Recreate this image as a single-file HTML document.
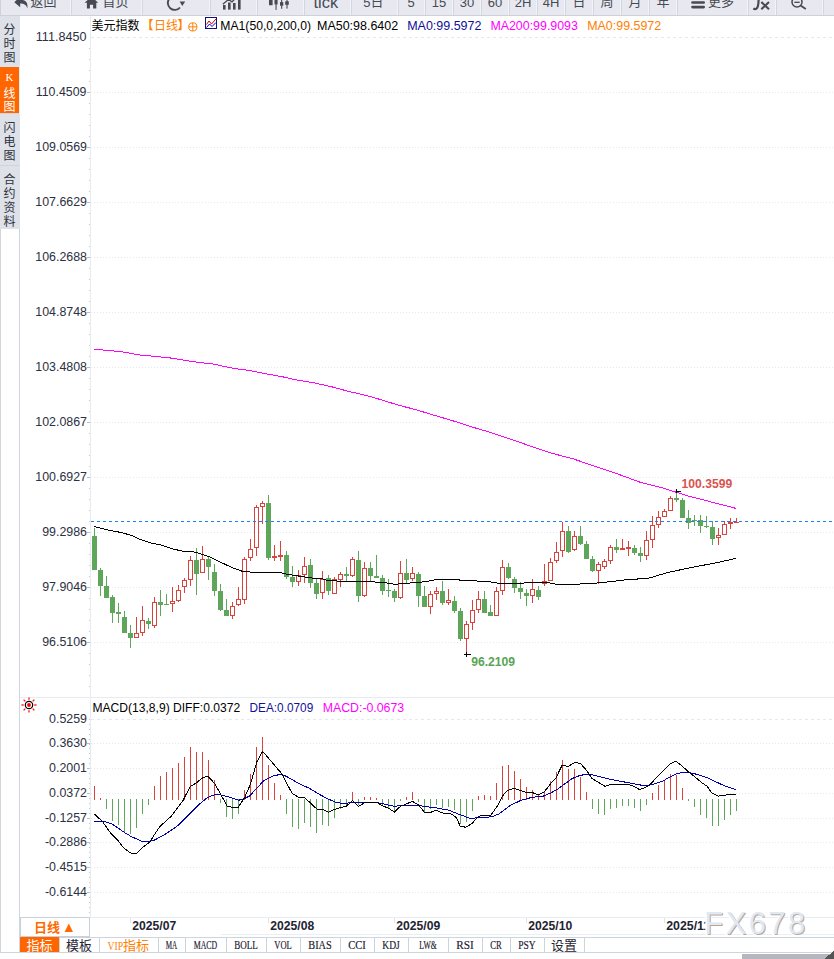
<!DOCTYPE html>
<html><head><meta charset="utf-8"><title>美元指数 日线</title>
<style>html,body{margin:0;padding:0;background:#fff;}body{width:834px;height:959px;overflow:hidden;position:relative;}svg{position:absolute;left:0;top:0;display:block}</style>
</head><body>
<svg width="834" height="959" viewBox="0 0 834 959" shape-rendering="crispEdges">
<rect x="0" y="0" width="834" height="15" fill="#e8e9f0"/>
<rect x="0" y="15" width="834" height="1" fill="#cfd1d8"/>
<rect x="0" y="0" width="1" height="16" fill="#d0d2d9"/>
<rect x="70" y="0" width="1" height="15" fill="#f3f4f7"/>
<rect x="71" y="0" width="1" height="15" fill="#d4d6dd"/>
<rect x="141" y="0" width="1" height="15" fill="#f3f4f7"/>
<rect x="142" y="0" width="1" height="15" fill="#d4d6dd"/>
<rect x="209" y="0" width="1" height="15" fill="#f3f4f7"/>
<rect x="210" y="0" width="1" height="15" fill="#d4d6dd"/>
<rect x="256" y="0" width="1" height="15" fill="#f3f4f7"/>
<rect x="257" y="0" width="1" height="15" fill="#d4d6dd"/>
<rect x="303" y="0" width="1" height="15" fill="#f3f4f7"/>
<rect x="304" y="0" width="1" height="15" fill="#d4d6dd"/>
<rect x="350" y="0" width="1" height="15" fill="#f3f4f7"/>
<rect x="351" y="0" width="1" height="15" fill="#d4d6dd"/>
<rect x="397" y="0" width="1" height="15" fill="#f3f4f7"/>
<rect x="398" y="0" width="1" height="15" fill="#d4d6dd"/>
<rect x="424" y="0" width="1" height="15" fill="#f3f4f7"/>
<rect x="425" y="0" width="1" height="15" fill="#d4d6dd"/>
<rect x="452" y="0" width="1" height="15" fill="#f3f4f7"/>
<rect x="453" y="0" width="1" height="15" fill="#d4d6dd"/>
<rect x="480" y="0" width="1" height="15" fill="#f3f4f7"/>
<rect x="481" y="0" width="1" height="15" fill="#d4d6dd"/>
<rect x="508" y="0" width="1" height="15" fill="#f3f4f7"/>
<rect x="509" y="0" width="1" height="15" fill="#d4d6dd"/>
<rect x="536" y="0" width="1" height="15" fill="#f3f4f7"/>
<rect x="537" y="0" width="1" height="15" fill="#d4d6dd"/>
<rect x="564" y="0" width="1" height="15" fill="#f3f4f7"/>
<rect x="565" y="0" width="1" height="15" fill="#d4d6dd"/>
<rect x="592" y="0" width="1" height="15" fill="#f3f4f7"/>
<rect x="593" y="0" width="1" height="15" fill="#d4d6dd"/>
<rect x="620" y="0" width="1" height="15" fill="#f3f4f7"/>
<rect x="621" y="0" width="1" height="15" fill="#d4d6dd"/>
<rect x="648" y="0" width="1" height="15" fill="#f3f4f7"/>
<rect x="649" y="0" width="1" height="15" fill="#d4d6dd"/>
<rect x="676" y="0" width="1" height="15" fill="#f3f4f7"/>
<rect x="677" y="0" width="1" height="15" fill="#d4d6dd"/>
<rect x="747" y="0" width="1" height="15" fill="#f3f4f7"/>
<rect x="748" y="0" width="1" height="15" fill="#d4d6dd"/>
<rect x="775" y="0" width="1" height="15" fill="#f3f4f7"/>
<rect x="776" y="0" width="1" height="15" fill="#d4d6dd"/>
<rect x="822" y="0" width="1" height="15" fill="#f3f4f7"/>
<rect x="823" y="0" width="1" height="15" fill="#d4d6dd"/>
<text x="30.5" y="6.4" font-family='"Liberation Sans","Noto Sans CJK SC",sans-serif' font-size="13" fill="#474a52" text-anchor="start">返回</text>
<text x="102.5" y="6.4" font-family='"Liberation Sans","Noto Sans CJK SC",sans-serif' font-size="13" fill="#474a52" text-anchor="start">首页</text>
<text x="313.5" y="7.8" font-family='"Liberation Sans","Noto Sans CJK SC",sans-serif' font-size="17" fill="#474a52" text-anchor="start" textLength="24.6" lengthAdjust="spacingAndGlyphs">tick</text>
<text x="363.3" y="6.7" font-family='"Liberation Sans","Noto Sans CJK SC",sans-serif' font-size="13" fill="#474a52" text-anchor="start">5</text>
<text x="370.5" y="6.4" font-family='"Liberation Sans","Noto Sans CJK SC",sans-serif' font-size="13" fill="#474a52" text-anchor="start">日</text>
<text x="411" y="6.7" font-family='"Liberation Sans","Noto Sans CJK SC",sans-serif' font-size="13" fill="#474a52" text-anchor="middle">5</text>
<text x="439" y="6.7" font-family='"Liberation Sans","Noto Sans CJK SC",sans-serif' font-size="13" fill="#474a52" text-anchor="middle">15</text>
<text x="467" y="6.7" font-family='"Liberation Sans","Noto Sans CJK SC",sans-serif' font-size="13" fill="#474a52" text-anchor="middle">30</text>
<text x="495" y="6.7" font-family='"Liberation Sans","Noto Sans CJK SC",sans-serif' font-size="13" fill="#474a52" text-anchor="middle">60</text>
<text x="523" y="6.7" font-family='"Liberation Sans","Noto Sans CJK SC",sans-serif' font-size="13" fill="#474a52" text-anchor="middle">2H</text>
<text x="551" y="6.7" font-family='"Liberation Sans","Noto Sans CJK SC",sans-serif' font-size="13" fill="#474a52" text-anchor="middle">4H</text>
<text x="579" y="6.4" font-family='"Liberation Sans","Noto Sans CJK SC",sans-serif' font-size="13" fill="#474a52" text-anchor="middle">日</text>
<text x="607" y="6.4" font-family='"Liberation Sans","Noto Sans CJK SC",sans-serif' font-size="13" fill="#474a52" text-anchor="middle">周</text>
<text x="635" y="6.4" font-family='"Liberation Sans","Noto Sans CJK SC",sans-serif' font-size="13" fill="#474a52" text-anchor="middle">月</text>
<text x="663" y="6.4" font-family='"Liberation Sans","Noto Sans CJK SC",sans-serif' font-size="13" fill="#474a52" text-anchor="middle">年</text>
<text x="708" y="6.4" font-family='"Liberation Sans","Noto Sans CJK SC",sans-serif' font-size="13" fill="#474a52" text-anchor="start">更多</text>
<g shape-rendering="auto">
<path d="M14.3 2.2 L20.2 -3.5 L20.2 -0.3 C25.5 -0.3 28.2 2.5 27.3 8.2 C25.8 4.6 23.8 3.6 20.2 3.6 L20.2 7.2 Z" fill="#474a52"/>
<path d="M84.6 2.8 L91.5 -3.5 L98.2 2.8 L96.3 2.8 L96.3 8.4 L93.1 8.4 L93.1 4.8 L89.9 4.8 L89.9 8.4 L86.9 8.4 L86.9 2.8 Z" fill="#474a52"/>
<path d="M169.5 -1.5 A6.3 6.3 0 0 0 180 7.5" fill="none" stroke="#474a52" stroke-width="1.9"/><path d="M179.6 1.6 L185.2 1.6 L182.3 5.9 Z" fill="#474a52"/>
<rect x="223" y="5" width="2.6" height="4.6" fill="#474a52"/>
<rect x="228" y="2.5" width="2.6" height="7.1" fill="#474a52"/>
<rect x="233" y="3" width="2.6" height="6.6" fill="#474a52"/>
<rect x="238" y="-1" width="2.6" height="10.6" fill="#474a52"/>
<path d="M222.8 4.2 L228.5 -0.5 L232 1.8 L236 -2" fill="none" stroke="#474a52" stroke-width="1.3"/>
<rect x="269" y="-1" width="3.6" height="6.2" fill="#474a52"/><rect x="270.25" y="-1" width="1.1" height="6.2" fill="#474a52"/>
<rect x="274.5" y="-1" width="3.1" height="5.4" fill="#474a52"/><rect x="275.50" y="-1" width="1.1" height="10.9" fill="#474a52"/>
<rect x="280" y="2.1" width="3.3" height="3.6" fill="#474a52"/><rect x="281.10" y="-1" width="1.1" height="9.8" fill="#474a52"/>
<rect x="285.2" y="1.3" width="3.6" height="3.5" fill="#474a52"/><rect x="286.45" y="-1" width="1.1" height="9.6" fill="#474a52"/>
<rect x="691.2" y="1.2" width="13.8" height="2.6" rx="1.3" fill="#474a52"/><rect x="691.2" y="5.8" width="13.8" height="2.6" rx="1.3" fill="#474a52"/>
<path d="M758.6 -1 C758.6 3 758.6 7 756.5 8.6 C755.5 9.3 754.2 9.1 753.4 8.4" fill="none" stroke="#474a52" stroke-width="2.2"/>
<path d="M761.3 2 L769 9.3 M769 2 L761.3 9.3" stroke="#474a52" stroke-width="2.1"/>
<circle cx="797" cy="2" r="5" fill="none" stroke="#474a52" stroke-width="1.5"/><path d="M794.3 2.3 H799.7" stroke="#474a52" stroke-width="1.3"/><path d="M800.6 5.6 L805.8 9" stroke="#474a52" stroke-width="1.8"/>
</g>
<rect x="0" y="16" width="20" height="213" fill="#dfe1e8"/>
<rect x="0" y="66" width="19" height="1" fill="#dbe6f2"/>
<rect x="19" y="66" width="1" height="48" fill="#e4eef9"/>
<rect x="0" y="67" width="19" height="46" fill="#ff6600"/>
<rect x="0" y="113" width="19" height="1" fill="#ccd6e0"/>
<rect x="0" y="165" width="19" height="1" fill="#ccd6e0"/>
<rect x="0" y="229" width="1" height="724" fill="#cfd6de"/>
<rect x="19" y="229" width="1" height="724" fill="#cfd6de"/>
<text x="9.5" y="33.7" font-family='"Liberation Sans","Noto Sans CJK SC",sans-serif' font-size="12" fill="#2c3340" text-anchor="middle">分</text>
<text x="9.5" y="47.7" font-family='"Liberation Sans","Noto Sans CJK SC",sans-serif' font-size="12" fill="#2c3340" text-anchor="middle">时</text>
<text x="9.5" y="61.7" font-family='"Liberation Sans","Noto Sans CJK SC",sans-serif' font-size="12" fill="#2c3340" text-anchor="middle">图</text>
<text x="9.5" y="81" font-family='"Liberation Serif",serif' font-size="11" fill="#ffffff" text-anchor="middle">K</text>
<text x="9.5" y="98" font-family='"Liberation Sans","Noto Sans CJK SC",sans-serif' font-size="12" fill="#ffffff" text-anchor="middle">线</text>
<text x="9.5" y="111" font-family='"Liberation Sans","Noto Sans CJK SC",sans-serif' font-size="12" fill="#ffffff" text-anchor="middle">图</text>
<text x="9.5" y="131.6" font-family='"Liberation Sans","Noto Sans CJK SC",sans-serif' font-size="12" fill="#2c3340" text-anchor="middle">闪</text>
<text x="9.5" y="145.6" font-family='"Liberation Sans","Noto Sans CJK SC",sans-serif' font-size="12" fill="#2c3340" text-anchor="middle">电</text>
<text x="9.5" y="159.6" font-family='"Liberation Sans","Noto Sans CJK SC",sans-serif' font-size="12" fill="#2c3340" text-anchor="middle">图</text>
<text x="9.5" y="183.8" font-family='"Liberation Sans","Noto Sans CJK SC",sans-serif' font-size="12" fill="#2c3340" text-anchor="middle">合</text>
<text x="9.5" y="197.8" font-family='"Liberation Sans","Noto Sans CJK SC",sans-serif' font-size="12" fill="#2c3340" text-anchor="middle">约</text>
<text x="9.5" y="211.8" font-family='"Liberation Sans","Noto Sans CJK SC",sans-serif' font-size="12" fill="#2c3340" text-anchor="middle">资</text>
<text x="9.5" y="225.8" font-family='"Liberation Sans","Noto Sans CJK SC",sans-serif' font-size="12" fill="#2c3340" text-anchor="middle">料</text>
<rect x="90" y="16" width="1" height="901" fill="#e6ecf2"/>
<line x1="91" y1="37.5" x2="834" y2="37.5" stroke="#e3e9f0" stroke-dasharray="3 3"/>
<text x="35.8" y="40.6" font-family="'Liberation Sans',sans-serif" font-size="12.4" fill="#2b3042" textLength="50.6" lengthAdjust="spacingAndGlyphs">111.8450</text>
<line x1="91" y1="92.5" x2="834" y2="92.5" stroke="#e3e9f0" stroke-dasharray="1 2"/>
<rect x="87" y="92" width="3" height="1" fill="#b8bec8"/>
<text x="35.8" y="95.6" font-family="'Liberation Sans',sans-serif" font-size="12.4" fill="#2b3042" textLength="50.6" lengthAdjust="spacingAndGlyphs">110.4509</text>
<line x1="91" y1="147.5" x2="834" y2="147.5" stroke="#e3e9f0" stroke-dasharray="1 2"/>
<rect x="87" y="147" width="3" height="1" fill="#b8bec8"/>
<text x="87" y="150.6" font-family="'Liberation Sans',sans-serif" font-size="12.4" fill="#2b3042" text-anchor="end">109.0569</text>
<line x1="91" y1="202.5" x2="834" y2="202.5" stroke="#e3e9f0" stroke-dasharray="1 2"/>
<rect x="87" y="202" width="3" height="1" fill="#b8bec8"/>
<text x="87" y="205.6" font-family="'Liberation Sans',sans-serif" font-size="12.4" fill="#2b3042" text-anchor="end">107.6629</text>
<line x1="91" y1="257.5" x2="834" y2="257.5" stroke="#e3e9f0" stroke-dasharray="1 2"/>
<rect x="87" y="257" width="3" height="1" fill="#b8bec8"/>
<text x="87" y="260.6" font-family="'Liberation Sans',sans-serif" font-size="12.4" fill="#2b3042" text-anchor="end">106.2688</text>
<line x1="91" y1="312.5" x2="834" y2="312.5" stroke="#e3e9f0" stroke-dasharray="1 2"/>
<rect x="87" y="312" width="3" height="1" fill="#b8bec8"/>
<text x="87" y="315.6" font-family="'Liberation Sans',sans-serif" font-size="12.4" fill="#2b3042" text-anchor="end">104.8748</text>
<line x1="91" y1="367.5" x2="834" y2="367.5" stroke="#e3e9f0" stroke-dasharray="1 2"/>
<rect x="87" y="367" width="3" height="1" fill="#b8bec8"/>
<text x="87" y="370.6" font-family="'Liberation Sans',sans-serif" font-size="12.4" fill="#2b3042" text-anchor="end">103.4808</text>
<line x1="91" y1="422.5" x2="834" y2="422.5" stroke="#e3e9f0" stroke-dasharray="1 2"/>
<rect x="87" y="422" width="3" height="1" fill="#b8bec8"/>
<text x="87" y="425.6" font-family="'Liberation Sans',sans-serif" font-size="12.4" fill="#2b3042" text-anchor="end">102.0867</text>
<line x1="91" y1="477.5" x2="834" y2="477.5" stroke="#e3e9f0" stroke-dasharray="1 2"/>
<rect x="87" y="477" width="3" height="1" fill="#b8bec8"/>
<text x="87" y="480.6" font-family="'Liberation Sans',sans-serif" font-size="12.4" fill="#2b3042" text-anchor="end">100.6927</text>
<line x1="91" y1="532.5" x2="834" y2="532.5" stroke="#e3e9f0" stroke-dasharray="1 2"/>
<rect x="87" y="532" width="3" height="1" fill="#b8bec8"/>
<text x="87" y="535.6" font-family="'Liberation Sans',sans-serif" font-size="12.4" fill="#2b3042" text-anchor="end">99.2986</text>
<line x1="91" y1="587.5" x2="834" y2="587.5" stroke="#e3e9f0" stroke-dasharray="1 2"/>
<rect x="87" y="587" width="3" height="1" fill="#b8bec8"/>
<text x="87" y="590.6" font-family="'Liberation Sans',sans-serif" font-size="12.4" fill="#2b3042" text-anchor="end">97.9046</text>
<line x1="91" y1="642.5" x2="834" y2="642.5" stroke="#e3e9f0" stroke-dasharray="1 2"/>
<rect x="87" y="642" width="3" height="1" fill="#b8bec8"/>
<text x="87" y="645.6" font-family="'Liberation Sans',sans-serif" font-size="12.4" fill="#2b3042" text-anchor="end">96.5106</text>
<rect x="89" y="48" width="1" height="1" fill="#c4cad3"/>
<rect x="89" y="59" width="1" height="1" fill="#c4cad3"/>
<rect x="89" y="70" width="1" height="1" fill="#c4cad3"/>
<rect x="89" y="81" width="1" height="1" fill="#c4cad3"/>
<rect x="89" y="103" width="1" height="1" fill="#c4cad3"/>
<rect x="89" y="114" width="1" height="1" fill="#c4cad3"/>
<rect x="89" y="125" width="1" height="1" fill="#c4cad3"/>
<rect x="89" y="136" width="1" height="1" fill="#c4cad3"/>
<rect x="89" y="158" width="1" height="1" fill="#c4cad3"/>
<rect x="89" y="169" width="1" height="1" fill="#c4cad3"/>
<rect x="89" y="180" width="1" height="1" fill="#c4cad3"/>
<rect x="89" y="191" width="1" height="1" fill="#c4cad3"/>
<rect x="89" y="213" width="1" height="1" fill="#c4cad3"/>
<rect x="89" y="224" width="1" height="1" fill="#c4cad3"/>
<rect x="89" y="235" width="1" height="1" fill="#c4cad3"/>
<rect x="89" y="246" width="1" height="1" fill="#c4cad3"/>
<rect x="89" y="268" width="1" height="1" fill="#c4cad3"/>
<rect x="89" y="279" width="1" height="1" fill="#c4cad3"/>
<rect x="89" y="290" width="1" height="1" fill="#c4cad3"/>
<rect x="89" y="301" width="1" height="1" fill="#c4cad3"/>
<rect x="89" y="323" width="1" height="1" fill="#c4cad3"/>
<rect x="89" y="334" width="1" height="1" fill="#c4cad3"/>
<rect x="89" y="345" width="1" height="1" fill="#c4cad3"/>
<rect x="89" y="356" width="1" height="1" fill="#c4cad3"/>
<rect x="89" y="378" width="1" height="1" fill="#c4cad3"/>
<rect x="89" y="389" width="1" height="1" fill="#c4cad3"/>
<rect x="89" y="400" width="1" height="1" fill="#c4cad3"/>
<rect x="89" y="411" width="1" height="1" fill="#c4cad3"/>
<rect x="89" y="433" width="1" height="1" fill="#c4cad3"/>
<rect x="89" y="444" width="1" height="1" fill="#c4cad3"/>
<rect x="89" y="455" width="1" height="1" fill="#c4cad3"/>
<rect x="89" y="466" width="1" height="1" fill="#c4cad3"/>
<rect x="89" y="488" width="1" height="1" fill="#c4cad3"/>
<rect x="89" y="499" width="1" height="1" fill="#c4cad3"/>
<rect x="89" y="510" width="1" height="1" fill="#c4cad3"/>
<rect x="89" y="521" width="1" height="1" fill="#c4cad3"/>
<rect x="89" y="543" width="1" height="1" fill="#c4cad3"/>
<rect x="89" y="554" width="1" height="1" fill="#c4cad3"/>
<rect x="89" y="565" width="1" height="1" fill="#c4cad3"/>
<rect x="89" y="576" width="1" height="1" fill="#c4cad3"/>
<rect x="89" y="598" width="1" height="1" fill="#c4cad3"/>
<rect x="89" y="609" width="1" height="1" fill="#c4cad3"/>
<rect x="89" y="620" width="1" height="1" fill="#c4cad3"/>
<rect x="89" y="631" width="1" height="1" fill="#c4cad3"/>
<rect x="89" y="653" width="1" height="1" fill="#c4cad3"/>
<rect x="89" y="664" width="1" height="1" fill="#c4cad3"/>
<rect x="89" y="675" width="1" height="1" fill="#c4cad3"/>
<rect x="89" y="686" width="1" height="1" fill="#c4cad3"/>
<rect x="20" y="697" width="814" height="1" fill="#e6ecf2"/>
<line x1="91" y1="719.5" x2="834" y2="719.5" stroke="#e3e9f0" stroke-dasharray="3 3"/>
<text x="87" y="722.6" font-family="'Liberation Sans',sans-serif" font-size="12.4" fill="#2b3042" text-anchor="end">0.5259</text>
<line x1="91" y1="743.5" x2="834" y2="743.5" stroke="#e3e9f0" stroke-dasharray="1 2"/>
<rect x="87" y="743" width="3" height="1" fill="#b8bec8"/>
<text x="87" y="746.6" font-family="'Liberation Sans',sans-serif" font-size="12.4" fill="#2b3042" text-anchor="end">0.3630</text>
<line x1="91" y1="768.5" x2="834" y2="768.5" stroke="#e3e9f0" stroke-dasharray="1 2"/>
<rect x="87" y="768" width="3" height="1" fill="#b8bec8"/>
<text x="87" y="771.6" font-family="'Liberation Sans',sans-serif" font-size="12.4" fill="#2b3042" text-anchor="end">0.2001</text>
<line x1="91" y1="793.5" x2="834" y2="793.5" stroke="#e3e9f0" stroke-dasharray="1 2"/>
<rect x="87" y="793" width="3" height="1" fill="#b8bec8"/>
<text x="87" y="796.6" font-family="'Liberation Sans',sans-serif" font-size="12.4" fill="#2b3042" text-anchor="end">0.0372</text>
<line x1="91" y1="818.5" x2="834" y2="818.5" stroke="#e3e9f0" stroke-dasharray="1 2"/>
<rect x="87" y="818" width="3" height="1" fill="#b8bec8"/>
<text x="87" y="821.6" font-family="'Liberation Sans',sans-serif" font-size="12.4" fill="#2b3042" text-anchor="end">-0.1257</text>
<line x1="91" y1="842.5" x2="834" y2="842.5" stroke="#e3e9f0" stroke-dasharray="1 2"/>
<rect x="87" y="842" width="3" height="1" fill="#b8bec8"/>
<text x="87" y="845.6" font-family="'Liberation Sans',sans-serif" font-size="12.4" fill="#2b3042" text-anchor="end">-0.2886</text>
<line x1="91" y1="867.5" x2="834" y2="867.5" stroke="#e3e9f0" stroke-dasharray="1 2"/>
<rect x="87" y="867" width="3" height="1" fill="#b8bec8"/>
<text x="87" y="870.6" font-family="'Liberation Sans',sans-serif" font-size="12.4" fill="#2b3042" text-anchor="end">-0.4515</text>
<line x1="91" y1="892.5" x2="834" y2="892.5" stroke="#e3e9f0" stroke-dasharray="1 2"/>
<rect x="87" y="892" width="3" height="1" fill="#b8bec8"/>
<text x="87" y="895.6" font-family="'Liberation Sans',sans-serif" font-size="12.4" fill="#2b3042" text-anchor="end">-0.6144</text>
<rect x="89" y="719" width="1" height="1" fill="#c4cad3"/>
<rect x="89" y="724" width="1" height="1" fill="#c4cad3"/>
<rect x="89" y="729" width="1" height="1" fill="#c4cad3"/>
<rect x="89" y="734" width="1" height="1" fill="#c4cad3"/>
<rect x="89" y="739" width="1" height="1" fill="#c4cad3"/>
<rect x="89" y="744" width="1" height="1" fill="#c4cad3"/>
<rect x="89" y="748" width="1" height="1" fill="#c4cad3"/>
<rect x="89" y="753" width="1" height="1" fill="#c4cad3"/>
<rect x="89" y="758" width="1" height="1" fill="#c4cad3"/>
<rect x="89" y="763" width="1" height="1" fill="#c4cad3"/>
<rect x="89" y="768" width="1" height="1" fill="#c4cad3"/>
<rect x="89" y="773" width="1" height="1" fill="#c4cad3"/>
<rect x="89" y="778" width="1" height="1" fill="#c4cad3"/>
<rect x="89" y="783" width="1" height="1" fill="#c4cad3"/>
<rect x="89" y="788" width="1" height="1" fill="#c4cad3"/>
<rect x="89" y="793" width="1" height="1" fill="#c4cad3"/>
<rect x="89" y="798" width="1" height="1" fill="#c4cad3"/>
<rect x="89" y="803" width="1" height="1" fill="#c4cad3"/>
<rect x="89" y="808" width="1" height="1" fill="#c4cad3"/>
<rect x="89" y="813" width="1" height="1" fill="#c4cad3"/>
<rect x="89" y="818" width="1" height="1" fill="#c4cad3"/>
<rect x="89" y="823" width="1" height="1" fill="#c4cad3"/>
<rect x="89" y="828" width="1" height="1" fill="#c4cad3"/>
<rect x="89" y="833" width="1" height="1" fill="#c4cad3"/>
<rect x="89" y="838" width="1" height="1" fill="#c4cad3"/>
<rect x="89" y="843" width="1" height="1" fill="#c4cad3"/>
<rect x="89" y="847" width="1" height="1" fill="#c4cad3"/>
<rect x="89" y="852" width="1" height="1" fill="#c4cad3"/>
<rect x="89" y="857" width="1" height="1" fill="#c4cad3"/>
<rect x="89" y="862" width="1" height="1" fill="#c4cad3"/>
<rect x="89" y="867" width="1" height="1" fill="#c4cad3"/>
<rect x="89" y="872" width="1" height="1" fill="#c4cad3"/>
<rect x="89" y="877" width="1" height="1" fill="#c4cad3"/>
<rect x="89" y="882" width="1" height="1" fill="#c4cad3"/>
<rect x="89" y="887" width="1" height="1" fill="#c4cad3"/>
<rect x="89" y="892" width="1" height="1" fill="#c4cad3"/>
<rect x="89" y="897" width="1" height="1" fill="#c4cad3"/>
<rect x="89" y="902" width="1" height="1" fill="#c4cad3"/>
<rect x="89" y="907" width="1" height="1" fill="#c4cad3"/>
<rect x="89" y="912" width="1" height="1" fill="#c4cad3"/>
<rect x="20" y="917" width="70" height="1" fill="#c8d0da"/>
<rect x="90" y="917" width="744" height="1" fill="#e6ecf2"/>
<rect x="130" y="918" width="1" height="5" fill="#dfe4ea"/>
<text x="132.2" y="929.5" font-family="'Liberation Sans',sans-serif" font-size="12" font-weight="bold" fill="#1f2433" textLength="44" lengthAdjust="spacingAndGlyphs">2025/07</text>
<rect x="268" y="918" width="1" height="5" fill="#dfe4ea"/>
<text x="270.2" y="929.5" font-family="'Liberation Sans',sans-serif" font-size="12" font-weight="bold" fill="#1f2433" textLength="44" lengthAdjust="spacingAndGlyphs">2025/08</text>
<rect x="394" y="918" width="1" height="5" fill="#dfe4ea"/>
<text x="396.2" y="929.5" font-family="'Liberation Sans',sans-serif" font-size="12" font-weight="bold" fill="#1f2433" textLength="44" lengthAdjust="spacingAndGlyphs">2025/09</text>
<rect x="526" y="918" width="1" height="5" fill="#dfe4ea"/>
<text x="528.2" y="929.5" font-family="'Liberation Sans',sans-serif" font-size="12" font-weight="bold" fill="#1f2433" textLength="44" lengthAdjust="spacingAndGlyphs">2025/10</text>
<rect x="664" y="918" width="1" height="5" fill="#dfe4ea"/>
<text x="666.2" y="929.5" font-family="'Liberation Sans',sans-serif" font-size="12" font-weight="bold" fill="#1f2433" textLength="44" lengthAdjust="spacingAndGlyphs">2025/11</text>
<line x1="91" y1="521.5" x2="834" y2="521.5" stroke="#1e7dff" stroke-dasharray="3 3"/>
<rect x="94" y="528" width="1" height="42" fill="#5ea75a"/>
<rect x="92" y="536" width="5" height="34" fill="#5ea75a"/>
<rect x="100" y="568" width="1" height="28" fill="#5ea75a"/>
<rect x="98" y="570" width="5" height="16" fill="#5ea75a"/>
<rect x="106" y="576" width="1" height="22" fill="#5ea75a"/>
<rect x="104" y="586" width="5" height="12" fill="#5ea75a"/>
<rect x="112" y="595" width="1" height="28" fill="#5ea75a"/>
<rect x="110" y="597" width="5" height="16" fill="#5ea75a"/>
<rect x="118" y="603" width="1" height="20" fill="#5ea75a"/>
<rect x="116" y="612" width="5" height="2" fill="#5ea75a"/>
<rect x="124" y="611" width="1" height="22" fill="#5ea75a"/>
<rect x="122" y="617" width="5" height="16" fill="#5ea75a"/>
<rect x="130" y="625" width="1" height="23" fill="#5ea75a"/>
<rect x="128" y="633" width="5" height="5" fill="#5ea75a"/>
<rect x="136" y="617" width="1" height="21" fill="#d8443c"/>
<rect x="134" y="633" width="5" height="5" fill="#d8443c"/><rect x="135" y="634" width="3" height="3" fill="#fff"/>
<rect x="142" y="606" width="1" height="30" fill="#d8443c"/>
<rect x="140" y="620" width="5" height="13" fill="#d8443c"/><rect x="141" y="621" width="3" height="11" fill="#fff"/>
<rect x="148" y="618" width="1" height="11" fill="#5ea75a"/>
<rect x="146" y="621" width="5" height="3" fill="#5ea75a"/>
<rect x="154" y="597" width="1" height="31" fill="#d8443c"/>
<rect x="152" y="602" width="5" height="24" fill="#d8443c"/><rect x="153" y="603" width="3" height="22" fill="#fff"/>
<rect x="160" y="590" width="1" height="26" fill="#5ea75a"/>
<rect x="158" y="602" width="5" height="3" fill="#5ea75a"/>
<rect x="166" y="594" width="1" height="11" fill="#5ea75a"/>
<rect x="164" y="604" width="5" height="1" fill="#5ea75a"/>
<rect x="172" y="587" width="1" height="25" fill="#d8443c"/>
<rect x="170" y="601" width="5" height="3" fill="#d8443c"/><rect x="171" y="602" width="3" height="1" fill="#fff"/>
<rect x="178" y="585" width="1" height="17" fill="#d8443c"/>
<rect x="176" y="590" width="5" height="11" fill="#d8443c"/><rect x="177" y="591" width="3" height="9" fill="#fff"/>
<rect x="184" y="578" width="1" height="15" fill="#d8443c"/>
<rect x="182" y="580" width="5" height="7" fill="#d8443c"/><rect x="183" y="581" width="3" height="5" fill="#fff"/>
<rect x="190" y="556" width="1" height="30" fill="#d8443c"/>
<rect x="188" y="560" width="5" height="20" fill="#d8443c"/><rect x="189" y="561" width="3" height="18" fill="#fff"/>
<rect x="196" y="548" width="1" height="47" fill="#5ea75a"/>
<rect x="194" y="560" width="5" height="14" fill="#5ea75a"/>
<rect x="202" y="546" width="1" height="27" fill="#d8443c"/>
<rect x="200" y="559" width="5" height="14" fill="#d8443c"/><rect x="201" y="560" width="3" height="12" fill="#fff"/>
<rect x="208" y="557" width="1" height="23" fill="#5ea75a"/>
<rect x="206" y="559" width="5" height="8" fill="#5ea75a"/>
<rect x="214" y="564" width="1" height="32" fill="#5ea75a"/>
<rect x="212" y="572" width="5" height="19" fill="#5ea75a"/>
<rect x="220" y="584" width="1" height="27" fill="#5ea75a"/>
<rect x="218" y="591" width="5" height="19" fill="#5ea75a"/>
<rect x="226" y="599" width="1" height="17" fill="#5ea75a"/>
<rect x="224" y="610" width="5" height="6" fill="#5ea75a"/>
<rect x="232" y="602" width="1" height="17" fill="#d8443c"/>
<rect x="230" y="606" width="5" height="10" fill="#d8443c"/><rect x="231" y="607" width="3" height="8" fill="#fff"/>
<rect x="238" y="587" width="1" height="19" fill="#d8443c"/>
<rect x="236" y="599" width="5" height="6" fill="#d8443c"/><rect x="237" y="600" width="3" height="4" fill="#fff"/>
<rect x="244" y="557" width="1" height="47" fill="#d8443c"/>
<rect x="242" y="559" width="5" height="41" fill="#d8443c"/><rect x="243" y="560" width="3" height="39" fill="#fff"/>
<rect x="250" y="539" width="1" height="22" fill="#d8443c"/>
<rect x="248" y="549" width="5" height="9" fill="#d8443c"/><rect x="249" y="550" width="3" height="7" fill="#fff"/>
<rect x="256" y="505" width="1" height="51" fill="#d8443c"/>
<rect x="254" y="507" width="5" height="41" fill="#d8443c"/><rect x="255" y="508" width="3" height="39" fill="#fff"/>
<rect x="262" y="501" width="1" height="23" fill="#d8443c"/>
<rect x="260" y="503" width="5" height="4" fill="#d8443c"/><rect x="261" y="504" width="3" height="2" fill="#fff"/>
<rect x="268" y="495" width="1" height="65" fill="#5ea75a"/>
<rect x="266" y="503" width="5" height="55" fill="#5ea75a"/>
<rect x="274" y="545" width="1" height="16" fill="#d8443c"/>
<rect x="272" y="556" width="5" height="2" fill="#d8443c"/>
<rect x="280" y="541" width="1" height="20" fill="#d8443c"/>
<rect x="278" y="555" width="5" height="2" fill="#d8443c"/>
<rect x="286" y="551" width="1" height="28" fill="#5ea75a"/>
<rect x="284" y="555" width="5" height="22" fill="#5ea75a"/>
<rect x="292" y="566" width="1" height="21" fill="#5ea75a"/>
<rect x="290" y="577" width="5" height="5" fill="#5ea75a"/>
<rect x="298" y="570" width="1" height="16" fill="#d8443c"/>
<rect x="296" y="575" width="5" height="7" fill="#d8443c"/><rect x="297" y="576" width="3" height="5" fill="#fff"/>
<rect x="304" y="557" width="1" height="26" fill="#d8443c"/>
<rect x="302" y="566" width="5" height="9" fill="#d8443c"/><rect x="303" y="567" width="3" height="7" fill="#fff"/>
<rect x="310" y="559" width="1" height="29" fill="#5ea75a"/>
<rect x="308" y="565" width="5" height="18" fill="#5ea75a"/>
<rect x="316" y="579" width="1" height="20" fill="#5ea75a"/>
<rect x="314" y="583" width="5" height="11" fill="#5ea75a"/>
<rect x="322" y="571" width="1" height="28" fill="#d8443c"/>
<rect x="320" y="579" width="5" height="14" fill="#d8443c"/><rect x="321" y="580" width="3" height="12" fill="#fff"/>
<rect x="328" y="575" width="1" height="20" fill="#5ea75a"/>
<rect x="326" y="578" width="5" height="13" fill="#5ea75a"/>
<rect x="334" y="577" width="1" height="17" fill="#d8443c"/>
<rect x="332" y="579" width="5" height="15" fill="#d8443c"/><rect x="333" y="580" width="3" height="13" fill="#fff"/>
<rect x="340" y="572" width="1" height="15" fill="#d8443c"/>
<rect x="338" y="574" width="5" height="6" fill="#d8443c"/><rect x="339" y="575" width="3" height="4" fill="#fff"/>
<rect x="346" y="567" width="1" height="14" fill="#5ea75a"/>
<rect x="344" y="574" width="5" height="2" fill="#5ea75a"/>
<rect x="352" y="557" width="1" height="20" fill="#d8443c"/>
<rect x="350" y="559" width="5" height="17" fill="#d8443c"/><rect x="351" y="560" width="3" height="15" fill="#fff"/>
<rect x="358" y="551" width="1" height="51" fill="#5ea75a"/>
<rect x="356" y="560" width="5" height="36" fill="#5ea75a"/>
<rect x="364" y="562" width="1" height="35" fill="#d8443c"/>
<rect x="362" y="568" width="5" height="28" fill="#d8443c"/><rect x="363" y="569" width="3" height="26" fill="#fff"/>
<rect x="370" y="562" width="1" height="20" fill="#5ea75a"/>
<rect x="368" y="568" width="5" height="8" fill="#5ea75a"/>
<rect x="376" y="555" width="1" height="23" fill="#5ea75a"/>
<rect x="374" y="576" width="5" height="2" fill="#5ea75a"/>
<rect x="382" y="575" width="1" height="20" fill="#5ea75a"/>
<rect x="380" y="578" width="5" height="13" fill="#5ea75a"/>
<rect x="388" y="579" width="1" height="18" fill="#5ea75a"/>
<rect x="386" y="590" width="5" height="1" fill="#5ea75a"/>
<rect x="394" y="589" width="1" height="13" fill="#5ea75a"/>
<rect x="392" y="591" width="5" height="7" fill="#5ea75a"/>
<rect x="400" y="561" width="1" height="38" fill="#d8443c"/>
<rect x="398" y="573" width="5" height="25" fill="#d8443c"/><rect x="399" y="574" width="3" height="23" fill="#fff"/>
<rect x="406" y="559" width="1" height="24" fill="#5ea75a"/>
<rect x="404" y="573" width="5" height="7" fill="#5ea75a"/>
<rect x="412" y="567" width="1" height="14" fill="#d8443c"/>
<rect x="410" y="573" width="5" height="6" fill="#d8443c"/><rect x="411" y="574" width="3" height="4" fill="#fff"/>
<rect x="418" y="572" width="1" height="35" fill="#5ea75a"/>
<rect x="416" y="574" width="5" height="22" fill="#5ea75a"/>
<rect x="424" y="586" width="1" height="21" fill="#5ea75a"/>
<rect x="422" y="596" width="5" height="11" fill="#5ea75a"/>
<rect x="430" y="591" width="1" height="23" fill="#d8443c"/>
<rect x="428" y="594" width="5" height="13" fill="#d8443c"/><rect x="429" y="595" width="3" height="11" fill="#fff"/>
<rect x="436" y="587" width="1" height="13" fill="#d8443c"/>
<rect x="434" y="591" width="5" height="3" fill="#d8443c"/><rect x="435" y="592" width="3" height="1" fill="#fff"/>
<rect x="442" y="581" width="1" height="24" fill="#5ea75a"/>
<rect x="440" y="591" width="5" height="12" fill="#5ea75a"/>
<rect x="448" y="589" width="1" height="16" fill="#d8443c"/>
<rect x="446" y="600" width="5" height="3" fill="#d8443c"/><rect x="447" y="601" width="3" height="1" fill="#fff"/>
<rect x="454" y="596" width="1" height="17" fill="#5ea75a"/>
<rect x="452" y="601" width="5" height="10" fill="#5ea75a"/>
<rect x="460" y="608" width="1" height="33" fill="#5ea75a"/>
<rect x="458" y="611" width="5" height="28" fill="#5ea75a"/>
<rect x="466" y="621" width="1" height="34" fill="#d8443c"/>
<rect x="464" y="624" width="5" height="15" fill="#d8443c"/><rect x="465" y="625" width="3" height="13" fill="#fff"/>
<rect x="472" y="600" width="1" height="30" fill="#d8443c"/>
<rect x="470" y="610" width="5" height="13" fill="#d8443c"/><rect x="471" y="611" width="3" height="11" fill="#fff"/>
<rect x="478" y="591" width="1" height="22" fill="#d8443c"/>
<rect x="476" y="599" width="5" height="11" fill="#d8443c"/><rect x="477" y="600" width="3" height="9" fill="#fff"/>
<rect x="484" y="591" width="1" height="22" fill="#5ea75a"/>
<rect x="482" y="599" width="5" height="14" fill="#5ea75a"/>
<rect x="490" y="605" width="1" height="11" fill="#5ea75a"/>
<rect x="488" y="612" width="5" height="4" fill="#5ea75a"/>
<rect x="496" y="587" width="1" height="29" fill="#d8443c"/>
<rect x="494" y="591" width="5" height="25" fill="#d8443c"/><rect x="495" y="592" width="3" height="23" fill="#fff"/>
<rect x="502" y="560" width="1" height="35" fill="#d8443c"/>
<rect x="500" y="567" width="5" height="24" fill="#d8443c"/><rect x="501" y="568" width="3" height="22" fill="#fff"/>
<rect x="508" y="563" width="1" height="16" fill="#5ea75a"/>
<rect x="506" y="567" width="5" height="11" fill="#5ea75a"/>
<rect x="514" y="577" width="1" height="16" fill="#5ea75a"/>
<rect x="512" y="579" width="5" height="9" fill="#5ea75a"/>
<rect x="520" y="582" width="1" height="17" fill="#5ea75a"/>
<rect x="518" y="588" width="5" height="4" fill="#5ea75a"/>
<rect x="526" y="589" width="1" height="17" fill="#5ea75a"/>
<rect x="524" y="593" width="5" height="3" fill="#5ea75a"/>
<rect x="532" y="579" width="1" height="24" fill="#d8443c"/>
<rect x="530" y="589" width="5" height="7" fill="#d8443c"/><rect x="531" y="590" width="3" height="5" fill="#fff"/>
<rect x="538" y="586" width="1" height="14" fill="#5ea75a"/>
<rect x="536" y="590" width="5" height="7" fill="#5ea75a"/>
<rect x="544" y="564" width="1" height="22" fill="#d8443c"/>
<rect x="542" y="581" width="5" height="3" fill="#d8443c"/><rect x="543" y="582" width="3" height="1" fill="#fff"/>
<rect x="550" y="558" width="1" height="23" fill="#d8443c"/>
<rect x="548" y="562" width="5" height="19" fill="#d8443c"/><rect x="549" y="563" width="3" height="17" fill="#fff"/>
<rect x="556" y="542" width="1" height="21" fill="#d8443c"/>
<rect x="554" y="552" width="5" height="9" fill="#d8443c"/><rect x="555" y="553" width="3" height="7" fill="#fff"/>
<rect x="562" y="522" width="1" height="35" fill="#d8443c"/>
<rect x="560" y="531" width="5" height="20" fill="#d8443c"/><rect x="561" y="532" width="3" height="18" fill="#fff"/>
<rect x="568" y="526" width="1" height="27" fill="#5ea75a"/>
<rect x="566" y="531" width="5" height="21" fill="#5ea75a"/>
<rect x="574" y="531" width="1" height="20" fill="#d8443c"/>
<rect x="572" y="536" width="5" height="14" fill="#d8443c"/><rect x="573" y="537" width="3" height="12" fill="#fff"/>
<rect x="580" y="526" width="1" height="19" fill="#5ea75a"/>
<rect x="578" y="536" width="5" height="8" fill="#5ea75a"/>
<rect x="586" y="541" width="1" height="18" fill="#5ea75a"/>
<rect x="584" y="544" width="5" height="15" fill="#5ea75a"/>
<rect x="592" y="556" width="1" height="16" fill="#5ea75a"/>
<rect x="590" y="559" width="5" height="12" fill="#5ea75a"/>
<rect x="598" y="562" width="1" height="22" fill="#d8443c"/>
<rect x="596" y="564" width="5" height="7" fill="#d8443c"/><rect x="597" y="565" width="3" height="5" fill="#fff"/>
<rect x="604" y="559" width="1" height="10" fill="#d8443c"/>
<rect x="602" y="561" width="5" height="6" fill="#d8443c"/><rect x="603" y="562" width="3" height="4" fill="#fff"/>
<rect x="610" y="545" width="1" height="19" fill="#d8443c"/>
<rect x="608" y="547" width="5" height="14" fill="#d8443c"/><rect x="609" y="548" width="3" height="12" fill="#fff"/>
<rect x="616" y="539" width="1" height="14" fill="#5ea75a"/>
<rect x="614" y="547" width="5" height="3" fill="#5ea75a"/>
<rect x="622" y="539" width="1" height="11" fill="#d8443c"/>
<rect x="620" y="548" width="5" height="2" fill="#d8443c"/>
<rect x="628" y="541" width="1" height="15" fill="#d8443c"/>
<rect x="626" y="547" width="5" height="2" fill="#d8443c"/>
<rect x="634" y="545" width="1" height="10" fill="#5ea75a"/>
<rect x="632" y="548" width="5" height="5" fill="#5ea75a"/>
<rect x="640" y="547" width="1" height="15" fill="#5ea75a"/>
<rect x="638" y="553" width="5" height="3" fill="#5ea75a"/>
<rect x="646" y="531" width="1" height="29" fill="#d8443c"/>
<rect x="644" y="540" width="5" height="16" fill="#d8443c"/><rect x="645" y="541" width="3" height="14" fill="#fff"/>
<rect x="652" y="516" width="1" height="32" fill="#d8443c"/>
<rect x="650" y="525" width="5" height="15" fill="#d8443c"/><rect x="651" y="526" width="3" height="13" fill="#fff"/>
<rect x="658" y="511" width="1" height="17" fill="#d8443c"/>
<rect x="656" y="517" width="5" height="8" fill="#d8443c"/><rect x="657" y="518" width="3" height="6" fill="#fff"/>
<rect x="664" y="509" width="1" height="8" fill="#d8443c"/>
<rect x="662" y="511" width="5" height="6" fill="#d8443c"/><rect x="663" y="512" width="3" height="4" fill="#fff"/>
<rect x="670" y="496" width="1" height="15" fill="#d8443c"/>
<rect x="668" y="498" width="5" height="13" fill="#d8443c"/><rect x="669" y="499" width="3" height="11" fill="#fff"/>
<rect x="676" y="489" width="1" height="13" fill="#5ea75a"/>
<rect x="674" y="498" width="5" height="2" fill="#5ea75a"/>
<rect x="682" y="498" width="1" height="20" fill="#5ea75a"/>
<rect x="680" y="500" width="5" height="18" fill="#5ea75a"/>
<rect x="688" y="510" width="1" height="19" fill="#5ea75a"/>
<rect x="686" y="518" width="5" height="5" fill="#5ea75a"/>
<rect x="694" y="515" width="1" height="11" fill="#5ea75a"/>
<rect x="692" y="520" width="5" height="1" fill="#5ea75a"/>
<rect x="700" y="515" width="1" height="18" fill="#5ea75a"/>
<rect x="698" y="520" width="5" height="6" fill="#5ea75a"/>
<rect x="706" y="516" width="1" height="12" fill="#5ea75a"/>
<rect x="704" y="526" width="5" height="1" fill="#5ea75a"/>
<rect x="712" y="521" width="1" height="24" fill="#5ea75a"/>
<rect x="710" y="527" width="5" height="12" fill="#5ea75a"/>
<rect x="718" y="528" width="1" height="17" fill="#d8443c"/>
<rect x="716" y="535" width="5" height="3" fill="#d8443c"/><rect x="717" y="536" width="3" height="1" fill="#fff"/>
<rect x="724" y="521" width="1" height="14" fill="#d8443c"/>
<rect x="722" y="524" width="5" height="11" fill="#d8443c"/><rect x="723" y="525" width="3" height="9" fill="#fff"/>
<rect x="730" y="518" width="1" height="11" fill="#d8443c"/>
<rect x="728" y="522" width="5" height="2" fill="#d8443c"/>
<rect x="736" y="518" width="1" height="5" fill="#d8443c"/>
<rect x="734" y="522" width="5" height="1" fill="#d8443c"/>
<polyline points="94.1,349.2 109.1,350.6 120.6,351.5 139.8,355.0 168.6,357.7 199.3,362.6 210.8,363.6 235.8,368.8 248.0,370.3 259.2,372.5 282.2,376.7 297.6,380.2 312.9,382.6 332.1,386.9 347.5,391.1 370.5,396.5 385.9,401.3 400.0,405.6 414.2,409.2 433.4,415.0 452.6,420.7 471.8,426.9 491.0,432.6 510.2,439.0 529.4,445.7 550.0,452.8 572.8,458.7 595.6,466.6 618.3,474.2 641.1,482.6 663.9,488.3 686.7,495.6 709.5,501.5 735.6,508.3" fill="none" stroke="#ff00ff" stroke-width="1" stroke-linejoin="round"/>
<polyline points="93.8,526.4 109.9,530.4 121.6,532.6 131.8,535.5 137.6,538.5 152.2,543.3 160.0,544.8 172.5,548.8 183.8,551.5 193.8,551.9 202.5,554.4 210.0,556.9 220.0,561.9 231.9,567.5 242.6,571.4 250.0,572.0 277.8,572.0 284.6,573.8 295.0,575.5 308.0,577.4 314.0,578.4 322.0,578.6 328.0,580.6 337.0,581.0 340.0,581.7 373.5,581.7 378.0,582.5 385.6,582.5 388.0,583.5 392.0,583.5 394.0,584.5 397.0,584.5 399.0,583.4 408.8,583.4 411.0,582.4 420.7,582.4 423.0,581.6 427.0,581.3 433.0,580.2 439.0,579.3 457.6,579.3 460.0,580.2 475.7,580.2 478.0,581.3 488.0,581.3 494.0,582.6 500.0,583.4 523.0,583.4 525.0,582.2 548.6,582.2 551.0,583.4 554.0,583.4 556.0,584.4 577.0,584.2 600.0,582.8 625.2,579.9 648.7,578.2 667.1,572.7 690.6,567.6 717.4,562.6 735.9,558.4" fill="none" stroke="#000000" stroke-width="1" stroke-linejoin="round"/>
<line x1="91" y1="521.5" x2="834" y2="521.5" stroke="#1e7dff" stroke-dasharray="3 3"/>
<rect x="676" y="489" width="1" height="4" fill="#000"/><rect x="676" y="491" width="5" height="1" fill="#000"/>
<text x="681.6" y="488" font-family="'Liberation Sans',sans-serif" font-size="12" font-weight="bold" fill="#d9534f" textLength="50.6" lengthAdjust="spacingAndGlyphs">100.3599</text>
<rect x="466" y="652" width="1" height="5" fill="#000"/><rect x="464" y="654" width="7" height="1" fill="#000"/>
<text x="471.2" y="665.8" font-family="'Liberation Sans',sans-serif" font-size="12" font-weight="bold" fill="#5aa355" textLength="43.9" lengthAdjust="spacingAndGlyphs">96.2109</text>
<text x="91.6" y="30.4" font-family='"Liberation Sans","Noto Sans CJK SC",sans-serif' font-size="12" fill="#000">美元指数</text>
<text x="141.5" y="30.4" font-family='"Liberation Sans","Noto Sans CJK SC",sans-serif' font-size="12" fill="#ff7f00" font-weight="bold">【</text>
<text x="154" y="30.4" font-family='"Liberation Sans","Noto Sans CJK SC",sans-serif' font-size="12" fill="#ff7f00">日线</text>
<text x="177.5" y="30.4" font-family='"Liberation Sans","Noto Sans CJK SC",sans-serif' font-size="12" fill="#ff7f00" font-weight="bold">】</text>
<g shape-rendering="auto"><circle cx="192.8" cy="26.9" r="4.1" fill="none" stroke="#ff8000" stroke-width="1"/><path d="M188.7 26.9 H196.9 M192.8 22.8 V31" stroke="#ff8000" stroke-width="1"/></g>
<rect x="205.5" y="17.5" width="11" height="11" fill="#fff" stroke="#101078" stroke-width="1"/><g shape-rendering="auto"><path d="M206.5 24.5 L209 21 L211.5 24 L216 19" fill="none" stroke="#e00000" stroke-width="1"/><path d="M206.5 27.5 L209.5 24 L212 26.5 L216 22.5" fill="none" stroke="#0000d0" stroke-width="1"/></g>
<text x="220.3" y="29.6" font-family='"Liberation Sans",sans-serif' font-size="12.2" fill="#000" textLength="90.8" lengthAdjust="spacingAndGlyphs">MA1(50,0,200,0)</text>
<text x="317" y="29.6" font-family='"Liberation Sans",sans-serif' font-size="12.2" fill="#000" textLength="81.2" lengthAdjust="spacingAndGlyphs">MA50:98.6402</text>
<text x="407.2" y="29.6" font-family='"Liberation Sans",sans-serif' font-size="12.2" fill="#10109a" textLength="74.2" lengthAdjust="spacingAndGlyphs">MA0:99.5972</text>
<text x="490.4" y="29.6" font-family='"Liberation Sans",sans-serif' font-size="12.2" fill="#ff00ff" textLength="87.5" lengthAdjust="spacingAndGlyphs">MA200:99.9093</text>
<text x="587.2" y="29.6" font-family='"Liberation Sans",sans-serif' font-size="12.2" fill="#ff8000" textLength="74" lengthAdjust="spacingAndGlyphs">MA0:99.5972</text>
<rect x="94" y="786" width="1" height="14" fill="#d8443c"/>
<rect x="100" y="798" width="1" height="2" fill="#d8443c"/>
<rect x="106" y="799" width="1" height="10" fill="#5ea75a"/>
<rect x="112" y="799" width="1" height="22" fill="#5ea75a"/>
<rect x="118" y="799" width="1" height="26" fill="#5ea75a"/>
<rect x="124" y="799" width="1" height="33" fill="#5ea75a"/>
<rect x="130" y="799" width="1" height="35" fill="#5ea75a"/>
<rect x="136" y="799" width="1" height="29" fill="#5ea75a"/>
<rect x="142" y="799" width="1" height="15" fill="#5ea75a"/>
<rect x="148" y="799" width="1" height="6" fill="#5ea75a"/>
<rect x="154" y="786" width="1" height="14" fill="#d8443c"/>
<rect x="160" y="776" width="1" height="24" fill="#d8443c"/>
<rect x="166" y="772" width="1" height="28" fill="#d8443c"/>
<rect x="172" y="768" width="1" height="32" fill="#d8443c"/>
<rect x="178" y="763" width="1" height="37" fill="#d8443c"/>
<rect x="184" y="757" width="1" height="43" fill="#d8443c"/>
<rect x="190" y="747" width="1" height="53" fill="#d8443c"/>
<rect x="196" y="752" width="1" height="48" fill="#d8443c"/>
<rect x="202" y="752" width="1" height="48" fill="#d8443c"/>
<rect x="208" y="760" width="1" height="40" fill="#d8443c"/>
<rect x="214" y="780" width="1" height="20" fill="#d8443c"/>
<rect x="220" y="799" width="1" height="4" fill="#5ea75a"/>
<rect x="226" y="799" width="1" height="18" fill="#5ea75a"/>
<rect x="232" y="799" width="1" height="20" fill="#5ea75a"/>
<rect x="238" y="799" width="1" height="15" fill="#5ea75a"/>
<rect x="244" y="790" width="1" height="10" fill="#d8443c"/>
<rect x="250" y="774" width="1" height="26" fill="#d8443c"/>
<rect x="256" y="747" width="1" height="53" fill="#d8443c"/>
<rect x="262" y="737" width="1" height="63" fill="#d8443c"/>
<rect x="268" y="765" width="1" height="35" fill="#d8443c"/>
<rect x="274" y="783" width="1" height="17" fill="#d8443c"/>
<rect x="280" y="795" width="1" height="5" fill="#d8443c"/>
<rect x="286" y="799" width="1" height="15" fill="#5ea75a"/>
<rect x="292" y="799" width="1" height="28" fill="#5ea75a"/>
<rect x="298" y="799" width="1" height="30" fill="#5ea75a"/>
<rect x="304" y="799" width="1" height="24" fill="#5ea75a"/>
<rect x="310" y="799" width="1" height="28" fill="#5ea75a"/>
<rect x="316" y="799" width="1" height="34" fill="#5ea75a"/>
<rect x="322" y="799" width="1" height="26" fill="#5ea75a"/>
<rect x="328" y="799" width="1" height="27" fill="#5ea75a"/>
<rect x="334" y="799" width="1" height="19" fill="#5ea75a"/>
<rect x="340" y="799" width="1" height="10" fill="#5ea75a"/>
<rect x="346" y="799" width="1" height="6" fill="#5ea75a"/>
<rect x="352" y="792" width="1" height="8" fill="#d8443c"/>
<rect x="358" y="799" width="1" height="6" fill="#5ea75a"/>
<rect x="364" y="797" width="1" height="3" fill="#d8443c"/>
<rect x="370" y="797" width="1" height="3" fill="#d8443c"/>
<rect x="376" y="798" width="1" height="2" fill="#d8443c"/>
<rect x="382" y="799" width="1" height="6" fill="#5ea75a"/>
<rect x="388" y="799" width="1" height="10" fill="#5ea75a"/>
<rect x="394" y="799" width="1" height="14" fill="#5ea75a"/>
<rect x="400" y="799" width="1" height="2" fill="#5ea75a"/>
<rect x="406" y="797" width="1" height="3" fill="#d8443c"/>
<rect x="412" y="792" width="1" height="8" fill="#d8443c"/>
<rect x="418" y="799" width="1" height="3" fill="#5ea75a"/>
<rect x="424" y="799" width="1" height="13" fill="#5ea75a"/>
<rect x="430" y="799" width="1" height="10" fill="#5ea75a"/>
<rect x="436" y="799" width="1" height="6" fill="#5ea75a"/>
<rect x="442" y="799" width="1" height="9" fill="#5ea75a"/>
<rect x="448" y="799" width="1" height="8" fill="#5ea75a"/>
<rect x="454" y="799" width="1" height="11" fill="#5ea75a"/>
<rect x="460" y="799" width="1" height="25" fill="#5ea75a"/>
<rect x="466" y="799" width="1" height="23" fill="#5ea75a"/>
<rect x="472" y="799" width="1" height="12" fill="#5ea75a"/>
<rect x="478" y="796" width="1" height="4" fill="#d8443c"/>
<rect x="484" y="795" width="1" height="5" fill="#d8443c"/>
<rect x="490" y="796" width="1" height="4" fill="#d8443c"/>
<rect x="496" y="783" width="1" height="17" fill="#d8443c"/>
<rect x="502" y="766" width="1" height="34" fill="#d8443c"/>
<rect x="508" y="765" width="1" height="35" fill="#d8443c"/>
<rect x="514" y="771" width="1" height="29" fill="#d8443c"/>
<rect x="520" y="779" width="1" height="21" fill="#d8443c"/>
<rect x="526" y="787" width="1" height="13" fill="#d8443c"/>
<rect x="532" y="790" width="1" height="10" fill="#d8443c"/>
<rect x="538" y="795" width="1" height="5" fill="#d8443c"/>
<rect x="544" y="791" width="1" height="9" fill="#d8443c"/>
<rect x="550" y="781" width="1" height="19" fill="#d8443c"/>
<rect x="556" y="772" width="1" height="28" fill="#d8443c"/>
<rect x="562" y="760" width="1" height="40" fill="#d8443c"/>
<rect x="568" y="769" width="1" height="31" fill="#d8443c"/>
<rect x="574" y="769" width="1" height="31" fill="#d8443c"/>
<rect x="580" y="777" width="1" height="23" fill="#d8443c"/>
<rect x="586" y="792" width="1" height="8" fill="#d8443c"/>
<rect x="592" y="799" width="1" height="10" fill="#5ea75a"/>
<rect x="598" y="799" width="1" height="15" fill="#5ea75a"/>
<rect x="604" y="799" width="1" height="16" fill="#5ea75a"/>
<rect x="610" y="799" width="1" height="10" fill="#5ea75a"/>
<rect x="616" y="799" width="1" height="9" fill="#5ea75a"/>
<rect x="622" y="799" width="1" height="7" fill="#5ea75a"/>
<rect x="628" y="799" width="1" height="7" fill="#5ea75a"/>
<rect x="634" y="799" width="1" height="9" fill="#5ea75a"/>
<rect x="640" y="799" width="1" height="12" fill="#5ea75a"/>
<rect x="646" y="799" width="1" height="6" fill="#5ea75a"/>
<rect x="652" y="793" width="1" height="7" fill="#d8443c"/>
<rect x="658" y="785" width="1" height="15" fill="#d8443c"/>
<rect x="664" y="780" width="1" height="20" fill="#d8443c"/>
<rect x="670" y="774" width="1" height="26" fill="#d8443c"/>
<rect x="676" y="775" width="1" height="25" fill="#d8443c"/>
<rect x="682" y="788" width="1" height="12" fill="#d8443c"/>
<rect x="688" y="799" width="1" height="2" fill="#5ea75a"/>
<rect x="694" y="799" width="1" height="8" fill="#5ea75a"/>
<rect x="700" y="799" width="1" height="16" fill="#5ea75a"/>
<rect x="706" y="799" width="1" height="19" fill="#5ea75a"/>
<rect x="712" y="799" width="1" height="27" fill="#5ea75a"/>
<rect x="718" y="799" width="1" height="27" fill="#5ea75a"/>
<rect x="724" y="799" width="1" height="21" fill="#5ea75a"/>
<rect x="730" y="799" width="1" height="16" fill="#5ea75a"/>
<rect x="736" y="799" width="1" height="12" fill="#5ea75a"/>
<polyline points="94.5,821.4 105.3,821.8 112.5,824.2 124.0,832.2 131.2,836.5 141.2,841.1 149.9,841.2 154.2,840.1 162.8,835.8 177.2,826.1 191.6,812.0 200.0,803.7 207.2,797.6 214.4,794.7 220.1,794.7 228.8,796.9 238.8,800.2 243.2,799.1 249.6,795.9 256.1,789.0 263.3,781.1 271.9,776.3 280.6,774.3 286.3,776.3 297.8,783.0 309.4,788.3 320.0,794.7 326.4,798.1 335.0,802.0 340.8,803.2 352.3,802.9 376.7,802.4 394.0,806.3 405.5,805.3 418.5,805.3 424.0,806.3 435.5,807.8 448.5,810.1 460.0,814.7 470.0,818.3 481.6,817.6 491.6,816.8 498.8,814.0 510.3,805.3 521.8,800.0 531.9,797.4 543.2,796.1 550.4,793.2 557.6,789.2 564.8,783.9 572.0,778.6 579.2,775.7 586.4,774.2 592.1,774.8 603.6,777.7 616.6,780.6 629.5,782.9 639.6,784.9 646.8,785.8 654.4,783.9 663.0,781.0 670.2,776.7 677.4,773.4 683.2,772.4 690.4,772.8 697.6,774.5 707.6,777.7 716.3,782.0 724.9,786.0 735.7,789.6" fill="none" stroke="#0000aa" stroke-width="1" stroke-linejoin="round"/>
<polyline points="94.5,814.2 102.4,821.4 111.0,833.6 118.2,840.8 124.0,848.3 131.2,853.3 136.9,853.3 142.7,847.3 149.9,841.9 154.2,835.0 160.0,826.4 171.5,816.0 183.0,800.5 190.2,786.4 195.9,783.2 203.1,777.5 207.9,776.3 214.4,783.2 220.1,793.3 227.3,806.3 232.4,807.4 238.1,807.4 244.6,797.6 250.4,784.4 256.8,761.9 262.6,751.3 269.1,758.8 281.3,773.2 292.1,793.3 298.6,797.3 304.3,797.3 310.8,803.4 317.0,809.2 322.8,809.2 328.5,812.1 334.3,809.6 340.8,807.5 346.5,806.0 352.6,800.6 358.5,806.3 364.5,802.9 372.4,802.9 376.7,802.4 382.5,805.8 388.5,808.2 394.4,812.1 400.5,806.3 406.5,803.9 412.4,801.4 418.5,804.9 424.5,812.3 431.2,812.1 436.2,810.4 442.7,813.0 451.3,814.0 456.4,817.6 460.0,825.9 465.7,827.3 472.2,823.3 478.0,816.8 481.6,815.4 490.9,815.1 497.4,806.0 502.4,796.0 507.5,790.5 513.9,788.3 520.4,790.6 526.2,792.4 531.9,792.4 538.4,794.8 544.6,791.5 550.4,783.9 556.1,777.7 561.9,765.6 568.4,766.3 574.8,762.3 580.6,763.7 586.4,770.2 592.1,778.6 599.3,782.9 605.1,786.3 610.8,784.3 628.1,784.3 633.8,786.3 639.6,789.6 646.8,786.8 651.5,782.9 661.6,772.4 670.9,763.3 676.0,761.3 682.4,766.2 688.9,772.4 694.7,776.7 701.9,782.9 706.9,786.0 711.9,793.0 718.4,796.1 726.3,795.0 735.7,794.4" fill="none" stroke="#000000" stroke-width="1" stroke-linejoin="round"/>
<g shape-rendering="auto"><circle cx="29" cy="705" r="3.7" fill="none" stroke="#000" stroke-width="1.2"/><circle cx="29" cy="705" r="1.9" fill="#f00"/></g>
<g shape-rendering="auto">
<line x1="34.20" y1="705.00" x2="36.60" y2="705.00" stroke="#f00" stroke-width="1.2"/>
<line x1="32.68" y1="708.68" x2="34.37" y2="710.37" stroke="#f00" stroke-width="1.2"/>
<line x1="29.00" y1="710.20" x2="29.00" y2="712.60" stroke="#f00" stroke-width="1.2"/>
<line x1="25.32" y1="708.68" x2="23.63" y2="710.37" stroke="#f00" stroke-width="1.2"/>
<line x1="23.80" y1="705.00" x2="21.40" y2="705.00" stroke="#f00" stroke-width="1.2"/>
<line x1="25.32" y1="701.32" x2="23.63" y2="699.63" stroke="#f00" stroke-width="1.2"/>
<line x1="29.00" y1="699.80" x2="29.00" y2="697.40" stroke="#f00" stroke-width="1.2"/>
<line x1="32.68" y1="701.32" x2="34.37" y2="699.63" stroke="#f00" stroke-width="1.2"/>
</g>
<text x="92.5" y="711.6" font-family='"Liberation Sans",sans-serif' font-size="12" fill="#000" textLength="147.6" lengthAdjust="spacingAndGlyphs">MACD(13,8,9) DIFF:0.0372</text>
<text x="249.6" y="711.6" font-family='"Liberation Sans",sans-serif' font-size="12" fill="#10109a" textLength="63.6" lengthAdjust="spacingAndGlyphs">DEA:0.0709</text>
<text x="322.7" y="711.6" font-family='"Liberation Sans",sans-serif' font-size="12" fill="#ff00ff" textLength="81.5" lengthAdjust="spacingAndGlyphs">MACD:-0.0673</text>
<rect x="20" y="917" width="69" height="19" fill="#fff" stroke="#c8d0da" stroke-width="1" transform="translate(0.5 0.5)" />
<text x="34" y="932.4" font-family='"Liberation Sans","Noto Sans CJK SC",sans-serif' font-size="13" font-weight="bold" fill="#ff6a00">日线</text>
<path d="M64.6 932 L68.8 923.4 L73 932 Z" fill="#ff6a00" shape-rendering="auto"/>
<rect x="20" y="937" width="814" height="1" fill="#ccd4de"/>
<rect x="221" y="934" width="613" height="1" fill="#eaeff4"/>
<rect x="0" y="952" width="834" height="1" fill="#ccd4de"/>
<rect x="20" y="937" width="39" height="15" fill="#ff6600"/>
<rect x="59" y="937" width="1" height="15" fill="#ccd4de"/>
<text x="39.5" y="949.5" font-family='"Liberation Sans","Noto Sans CJK SC",sans-serif' font-size="13" fill="#fff" text-anchor="middle">指标</text>
<rect x="99" y="937" width="1" height="15" fill="#ccd4de"/>
<text x="79.0" y="949.5" font-family='"Liberation Sans","Noto Sans CJK SC",sans-serif' font-size="13" fill="#1f2433" text-anchor="middle">模板</text>
<rect x="158" y="937" width="1" height="15" fill="#ccd4de"/>
<text x="107.6" y="949.6" font-family='"Liberation Serif",serif' font-size="12.5" fill="#ff7f00" textLength="15.6" lengthAdjust="spacingAndGlyphs">VIP</text>
<text x="123" y="949.6" font-family='"Liberation Sans","Noto Sans CJK SC",sans-serif' font-size="13" fill="#ff7f00">指标</text>
<rect x="185" y="937" width="1" height="15" fill="#ccd4de"/>
<text x="171.5" y="949.3" font-family='"Liberation Serif",serif' font-size="12.6" fill="#1b2030" stroke="#1b2030" stroke-width="0.18" text-anchor="middle" textLength="11.5" lengthAdjust="spacingAndGlyphs">MA</text>
<rect x="226" y="937" width="1" height="15" fill="#ccd4de"/>
<text x="205.5" y="949.3" font-family='"Liberation Serif",serif' font-size="12.6" fill="#1b2030" stroke="#1b2030" stroke-width="0.18" text-anchor="middle" textLength="23.5" lengthAdjust="spacingAndGlyphs">MACD</text>
<rect x="266" y="937" width="1" height="15" fill="#ccd4de"/>
<text x="246.0" y="949.3" font-family='"Liberation Serif",serif' font-size="12.6" fill="#1b2030" stroke="#1b2030" stroke-width="0.18" text-anchor="middle" textLength="23.5" lengthAdjust="spacingAndGlyphs">BOLL</text>
<rect x="300" y="937" width="1" height="15" fill="#ccd4de"/>
<text x="283.0" y="949.3" font-family='"Liberation Serif",serif' font-size="12.6" fill="#1b2030" stroke="#1b2030" stroke-width="0.18" text-anchor="middle" textLength="17.5" lengthAdjust="spacingAndGlyphs">VOL</text>
<rect x="340" y="937" width="1" height="15" fill="#ccd4de"/>
<text x="320.0" y="949.3" font-family='"Liberation Serif",serif' font-size="12.6" fill="#1b2030" stroke="#1b2030" stroke-width="0.18" text-anchor="middle" textLength="23.5" lengthAdjust="spacingAndGlyphs">BIAS</text>
<rect x="374" y="937" width="1" height="15" fill="#ccd4de"/>
<text x="357.0" y="949.3" font-family='"Liberation Serif",serif' font-size="12.6" fill="#1b2030" stroke="#1b2030" stroke-width="0.18" text-anchor="middle" textLength="17.5" lengthAdjust="spacingAndGlyphs">CCI</text>
<rect x="408" y="937" width="1" height="15" fill="#ccd4de"/>
<text x="391.0" y="949.3" font-family='"Liberation Serif",serif' font-size="12.6" fill="#1b2030" stroke="#1b2030" stroke-width="0.18" text-anchor="middle" textLength="17.5" lengthAdjust="spacingAndGlyphs">KDJ</text>
<rect x="448" y="937" width="1" height="15" fill="#ccd4de"/>
<text x="428.0" y="949.3" font-family='"Liberation Serif",serif' font-size="12.6" fill="#1b2030" stroke="#1b2030" stroke-width="0.18" text-anchor="middle" textLength="17.5" lengthAdjust="spacingAndGlyphs">LW&amp;</text>
<rect x="482" y="937" width="1" height="15" fill="#ccd4de"/>
<text x="465.0" y="949.3" font-family='"Liberation Serif",serif' font-size="12.6" fill="#1b2030" stroke="#1b2030" stroke-width="0.18" text-anchor="middle" textLength="17.5" lengthAdjust="spacingAndGlyphs">RSI</text>
<rect x="510" y="937" width="1" height="15" fill="#ccd4de"/>
<text x="496.0" y="949.3" font-family='"Liberation Serif",serif' font-size="12.6" fill="#1b2030" stroke="#1b2030" stroke-width="0.18" text-anchor="middle" textLength="11.5" lengthAdjust="spacingAndGlyphs">CR</text>
<rect x="544" y="937" width="1" height="15" fill="#ccd4de"/>
<text x="527.0" y="949.3" font-family='"Liberation Serif",serif' font-size="12.6" fill="#1b2030" stroke="#1b2030" stroke-width="0.18" text-anchor="middle" textLength="17.5" lengthAdjust="spacingAndGlyphs">PSY</text>
<rect x="584" y="937" width="1" height="15" fill="#ccd4de"/>
<text x="564.0" y="949.5" font-family='"Liberation Sans","Noto Sans CJK SC",sans-serif' font-size="13" fill="#1f2433" text-anchor="middle">设置</text>
<rect x="834" y="937" width="1" height="15" fill="#ccd4de"/>
<rect x="742" y="954" width="92" height="5" fill="#b6b6be"/><path d="M824 959 L834 951 L834 959 Z" fill="#555"/>
<text x="704.3" y="934" font-family="'Liberation Sans',sans-serif" font-size="31" letter-spacing="2.4" fill="#fff" stroke="#fff" stroke-width="3" stroke-linejoin="round">FX678</text>
<text x="705.3" y="935" font-family="'Liberation Sans',sans-serif" font-size="31" letter-spacing="2.4" fill="#bfa590">FX678</text>
<text x="704.3" y="934" font-family="'Liberation Sans',sans-serif" font-size="31" letter-spacing="2.4" fill="#dfe9f5">FX678</text>
</svg>
</body></html>
